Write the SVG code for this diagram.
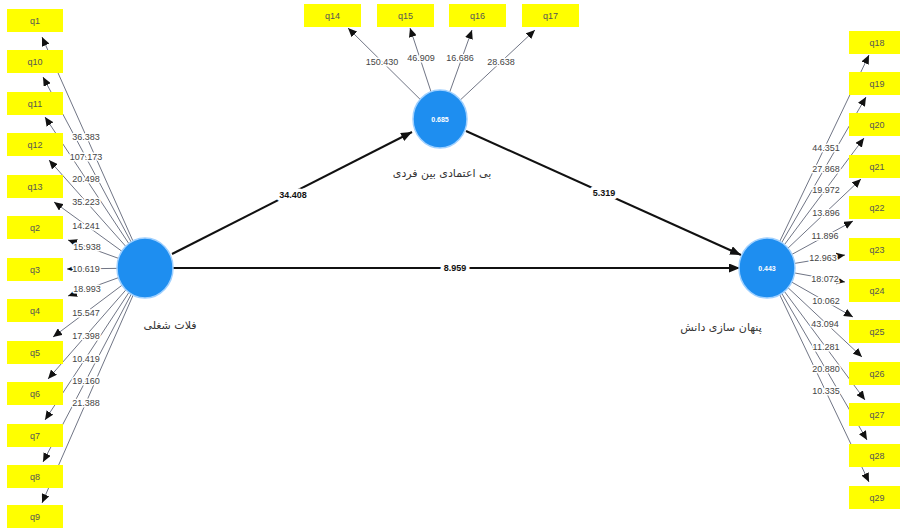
<svg xmlns="http://www.w3.org/2000/svg" width="900" height="528" viewBox="0 0 900 528">
<style>
.box{fill:#ffff00}
.bt{font-family:"Liberation Sans",Arial,sans-serif;font-size:9px;fill:#555;text-anchor:middle;dominant-baseline:central}
.ind{stroke:#707585;stroke-width:1;fill:none}
.str{stroke:#111;stroke-width:2;fill:none}
.lbl{font-family:"Liberation Sans",Arial,sans-serif;font-size:9px;fill:#444;text-anchor:middle;dominant-baseline:central;stroke:#fff;stroke-width:3;paint-order:stroke;stroke-linejoin:round}
.slbl{font-family:"Liberation Sans",Arial,sans-serif;font-size:9px;font-weight:bold;fill:#111;text-anchor:middle;dominant-baseline:central;stroke:#fff;stroke-width:7;paint-order:stroke;stroke-linejoin:round}
.lv{fill:#1e8ef0;stroke:#9fd0ff;stroke-width:1.5}
.lvt{font-family:"Liberation Sans",Arial,sans-serif;font-size:7px;font-weight:bold;fill:#fff;text-anchor:middle;dominant-baseline:central}
.nt{font-family:"DejaVu Sans","Noto Sans",sans-serif;font-size:11px;fill:#333;text-anchor:middle}
</style>
<defs>
<marker id="ah" markerUnits="userSpaceOnUse" markerWidth="9" markerHeight="8" refX="9" refY="4" orient="auto"><path d="M0,0 L9,4 L0,8 z" fill="#111"/></marker>
<marker id="ahs" markerUnits="userSpaceOnUse" markerWidth="11" markerHeight="9" refX="11" refY="4.5" orient="auto"><path d="M0,0 L11,4.5 L0,9 z" fill="#111"/></marker>
</defs>
<rect width="900" height="528" fill="#fff"/>
<g id="connectors">
<line class="ind" x1="145" y1="268" x2="42" y2="37" marker-end="url(#ah)"/>
<line class="ind" x1="145" y1="268" x2="43" y2="77" marker-end="url(#ah)"/>
<line class="ind" x1="145" y1="268" x2="45" y2="117" marker-end="url(#ah)"/>
<line class="ind" x1="145" y1="268" x2="49" y2="160" marker-end="url(#ah)"/>
<line class="ind" x1="145" y1="268" x2="54" y2="202" marker-end="url(#ah)"/>
<line class="ind" x1="145" y1="268" x2="68" y2="240" marker-end="url(#ah)"/>
<line class="ind" x1="145" y1="268" x2="67" y2="269" marker-end="url(#ah)"/>
<line class="ind" x1="145" y1="268" x2="68" y2="296" marker-end="url(#ah)"/>
<line class="ind" x1="145" y1="268" x2="53" y2="337" marker-end="url(#ah)"/>
<line class="ind" x1="145" y1="268" x2="48" y2="379" marker-end="url(#ah)"/>
<line class="ind" x1="145" y1="268" x2="45" y2="420" marker-end="url(#ah)"/>
<line class="ind" x1="145" y1="268" x2="43" y2="462" marker-end="url(#ah)"/>
<line class="ind" x1="145" y1="268" x2="42" y2="503" marker-end="url(#ah)"/>
<line class="ind" x1="440" y1="119" x2="348" y2="28" marker-end="url(#ah)"/>
<line class="ind" x1="440" y1="119" x2="410" y2="28" marker-end="url(#ah)"/>
<line class="ind" x1="440" y1="119" x2="472" y2="30" marker-end="url(#ah)"/>
<line class="ind" x1="440" y1="119" x2="535" y2="30" marker-end="url(#ah)"/>
<line class="ind" x1="767" y1="268" x2="869" y2="55" marker-end="url(#ah)"/>
<line class="ind" x1="767" y1="268" x2="866" y2="97" marker-end="url(#ah)"/>
<line class="ind" x1="767" y1="268" x2="864" y2="138" marker-end="url(#ah)"/>
<line class="ind" x1="767" y1="268" x2="861" y2="179" marker-end="url(#ah)"/>
<line class="ind" x1="767" y1="268" x2="853" y2="221" marker-end="url(#ah)"/>
<line class="ind" x1="767" y1="268" x2="845" y2="255" marker-end="url(#ah)"/>
<line class="ind" x1="767" y1="268" x2="845" y2="282" marker-end="url(#ah)"/>
<line class="ind" x1="767" y1="268" x2="853" y2="317" marker-end="url(#ah)"/>
<line class="ind" x1="767" y1="268" x2="862" y2="357" marker-end="url(#ah)"/>
<line class="ind" x1="767" y1="268" x2="865" y2="400" marker-end="url(#ah)"/>
<line class="ind" x1="767" y1="268" x2="867" y2="440" marker-end="url(#ah)"/>
<line class="ind" x1="767" y1="268" x2="869" y2="482" marker-end="url(#ah)"/>
<line class="str" x1="172" y1="254" x2="412" y2="132" marker-end="url(#ahs)"/>
<line class="str" x1="466" y1="131" x2="741" y2="255" marker-end="url(#ahs)"/>
<line class="str" x1="173" y1="268" x2="740" y2="268" marker-end="url(#ahs)"/>
<text class="lbl" x="86" y="137">36.383</text>
<text class="lbl" x="86" y="157">107.173</text>
<text class="lbl" x="86" y="179">20.498</text>
<text class="lbl" x="86" y="202">35.223</text>
<text class="lbl" x="86" y="226">14.241</text>
<text class="lbl" x="87" y="247">15.938</text>
<text class="lbl" x="86" y="269">10.619</text>
<text class="lbl" x="87" y="289">18.993</text>
<text class="lbl" x="86" y="313">15.547</text>
<text class="lbl" x="86" y="336">17.398</text>
<text class="lbl" x="86" y="359">10.419</text>
<text class="lbl" x="86" y="381">19.160</text>
<text class="lbl" x="86" y="403">21.388</text>
<text class="lbl" x="382" y="62">150.430</text>
<text class="lbl" x="421" y="58">46.909</text>
<text class="lbl" x="460" y="58">16.686</text>
<text class="lbl" x="501" y="62">28.638</text>
<text class="lbl" x="826" y="148">44.351</text>
<text class="lbl" x="826" y="169">27.868</text>
<text class="lbl" x="826" y="190">19.972</text>
<text class="lbl" x="826" y="213">13.896</text>
<text class="lbl" x="825" y="236">11.896</text>
<text class="lbl" x="823" y="258">12.963</text>
<text class="lbl" x="825" y="279">18.072</text>
<text class="lbl" x="826" y="301">10.062</text>
<text class="lbl" x="825" y="324">43.094</text>
<text class="lbl" x="826" y="347">11.281</text>
<text class="lbl" x="826" y="369">20.880</text>
<text class="lbl" x="826" y="391">10.335</text>
<text class="slbl" x="293" y="195">34.408</text>
<text class="slbl" x="604" y="193">5.319</text>
<text class="slbl" x="455" y="268">8.959</text>
</g>
<g id="q1"><rect class="box" x="7" y="9" width="56" height="23"/><text class="bt" x="35" y="20.5">q1</text></g>
<g id="q10"><rect class="box" x="7" y="50" width="56" height="23"/><text class="bt" x="35" y="61.5">q10</text></g>
<g id="q11"><rect class="box" x="7" y="92" width="56" height="23"/><text class="bt" x="35" y="103.5">q11</text></g>
<g id="q12"><rect class="box" x="7" y="133" width="56" height="23"/><text class="bt" x="35" y="144.5">q12</text></g>
<g id="q13"><rect class="box" x="7" y="175" width="56" height="23"/><text class="bt" x="35" y="186.5">q13</text></g>
<g id="q2"><rect class="box" x="7" y="216" width="56" height="23"/><text class="bt" x="35" y="227.5">q2</text></g>
<g id="q3"><rect class="box" x="7" y="258" width="56" height="23"/><text class="bt" x="35" y="269.5">q3</text></g>
<g id="q4"><rect class="box" x="7" y="299" width="56" height="23"/><text class="bt" x="35" y="310.5">q4</text></g>
<g id="q5"><rect class="box" x="7" y="341" width="56" height="23"/><text class="bt" x="35" y="352.5">q5</text></g>
<g id="q6"><rect class="box" x="7" y="382" width="56" height="23"/><text class="bt" x="35" y="393.5">q6</text></g>
<g id="q7"><rect class="box" x="7" y="424" width="56" height="23"/><text class="bt" x="35" y="435.5">q7</text></g>
<g id="q8"><rect class="box" x="7" y="465" width="56" height="23"/><text class="bt" x="35" y="476.5">q8</text></g>
<g id="q9"><rect class="box" x="7" y="505" width="56" height="23"/><text class="bt" x="35" y="516.5">q9</text></g>
<g id="q14"><rect class="box" x="304" y="4" width="57" height="23"/><text class="bt" x="332.5" y="15.5">q14</text></g>
<g id="q15"><rect class="box" x="377" y="4" width="57" height="23"/><text class="bt" x="405.5" y="15.5">q15</text></g>
<g id="q16"><rect class="box" x="449" y="4" width="57" height="23"/><text class="bt" x="477.5" y="15.5">q16</text></g>
<g id="q17"><rect class="box" x="522" y="4" width="57" height="23"/><text class="bt" x="550.5" y="15.5">q17</text></g>
<g id="q18"><rect class="box" x="849" y="31" width="56" height="23"/><text class="bt" x="877" y="42.5">q18</text></g>
<g id="q19"><rect class="box" x="849" y="72" width="56" height="23"/><text class="bt" x="877" y="83.5">q19</text></g>
<g id="q20"><rect class="box" x="849" y="113" width="56" height="23"/><text class="bt" x="877" y="124.5">q20</text></g>
<g id="q21"><rect class="box" x="849" y="155" width="56" height="23"/><text class="bt" x="877" y="166.5">q21</text></g>
<g id="q22"><rect class="box" x="849" y="196" width="56" height="23"/><text class="bt" x="877" y="207.5">q22</text></g>
<g id="q23"><rect class="box" x="849" y="238" width="56" height="23"/><text class="bt" x="877" y="249.5">q23</text></g>
<g id="q24"><rect class="box" x="849" y="279" width="56" height="23"/><text class="bt" x="877" y="290.5">q24</text></g>
<g id="q25"><rect class="box" x="849" y="320" width="56" height="23"/><text class="bt" x="877" y="331.5">q25</text></g>
<g id="q26"><rect class="box" x="849" y="362" width="56" height="23"/><text class="bt" x="877" y="373.5">q26</text></g>
<g id="q27"><rect class="box" x="849" y="403" width="56" height="23"/><text class="bt" x="877" y="414.5">q27</text></g>
<g id="q28"><rect class="box" x="849" y="444" width="56" height="23"/><text class="bt" x="877" y="455.5">q28</text></g>
<g id="q29"><rect class="box" x="849" y="486" width="56" height="23"/><text class="bt" x="877" y="497.5">q29</text></g>
<g id="career-plateau"><ellipse class="lv" cx="145" cy="268" rx="28" ry="30"/><text class="nt" x="170" y="329">فلات شغلی</text></g>
<g id="interpersonal-distrust"><ellipse class="lv" cx="440" cy="119" rx="27" ry="29"/><text class="lvt" x="440" y="119">0.685</text><text class="nt" x="442" y="177">بی اعتمادی بین فردی</text></g>
<g id="knowledge-hiding"><ellipse class="lv" cx="767" cy="268" rx="28" ry="30"/><text class="lvt" x="767" y="268">0.443</text><text class="nt" x="721" y="331">پنهان سازی دانش</text></g>
</svg>
